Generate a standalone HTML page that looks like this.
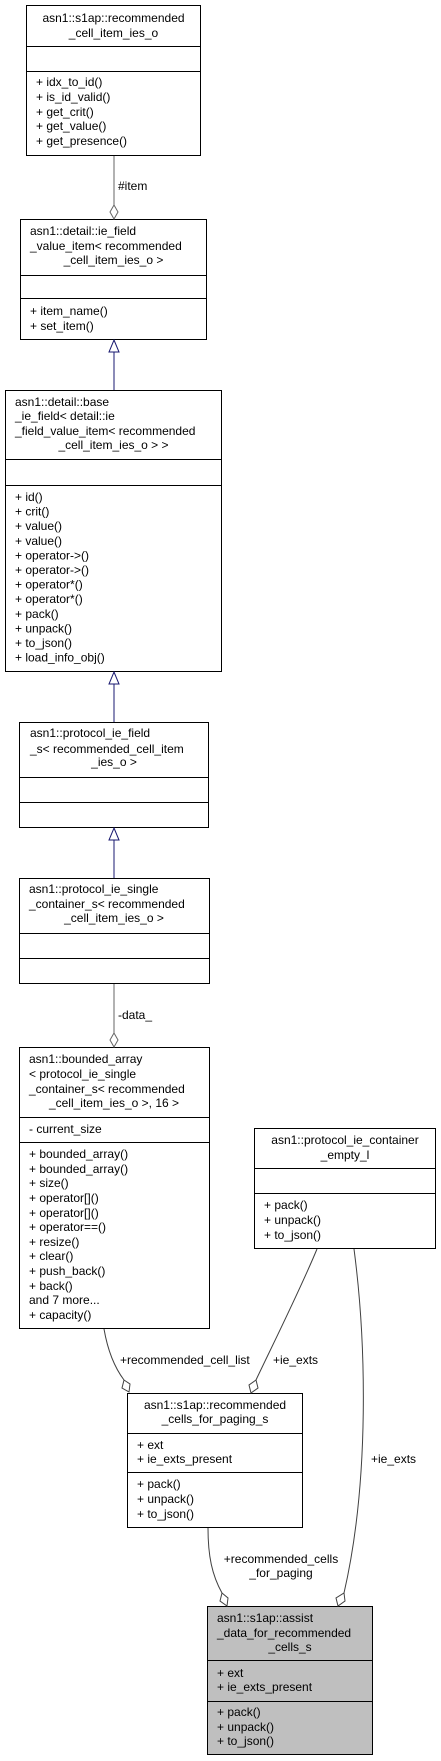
<!DOCTYPE html>
<html><head><meta charset="utf-8"><style>
html,body{margin:0;padding:0;background:#fff;}
svg{display:block;}
text{font-family:"Liberation Sans",sans-serif;font-size:12px;fill:#000;}
</style></head><body>
<svg width="441" height="1761" viewBox="0 0 441 1761" xmlns="http://www.w3.org/2000/svg">
<g fill="#fff" stroke="#000" stroke-width="1">
<rect x="26.5" y="5.5" width="174" height="150"/>
<line x1="26.5" y1="46.5" x2="200.5" y2="46.5"/><line x1="26.5" y1="71.5" x2="200.5" y2="71.5"/>
<rect x="20.5" y="219.5" width="186" height="120"/>
<line x1="20.5" y1="275.5" x2="206.5" y2="275.5"/><line x1="20.5" y1="298.5" x2="206.5" y2="298.5"/>
<rect x="5.5" y="390.5" width="216" height="281"/>
<line x1="5.5" y1="459.5" x2="221.5" y2="459.5"/><line x1="5.5" y1="485.5" x2="221.5" y2="485.5"/>
<rect x="19.5" y="722.5" width="189" height="105"/>
<line x1="19.5" y1="777.5" x2="208.5" y2="777.5"/><line x1="19.5" y1="802.5" x2="208.5" y2="802.5"/>
<rect x="19.5" y="878.5" width="190" height="105"/>
<line x1="19.5" y1="933.5" x2="209.5" y2="933.5"/><line x1="19.5" y1="958.5" x2="209.5" y2="958.5"/>
<rect x="19.5" y="1047.5" width="190" height="281"/>
<line x1="19.5" y1="1117.5" x2="209.5" y2="1117.5"/><line x1="19.5" y1="1142.5" x2="209.5" y2="1142.5"/>
<rect x="254.5" y="1128.5" width="181" height="120"/>
<line x1="254.5" y1="1168.5" x2="435.5" y2="1168.5"/><line x1="254.5" y1="1193.5" x2="435.5" y2="1193.5"/>
<rect x="127.5" y="1393.5" width="175" height="134"/>
<line x1="127.5" y1="1433.5" x2="302.5" y2="1433.5"/><line x1="127.5" y1="1472.5" x2="302.5" y2="1472.5"/>
<rect x="207.5" y="1606.5" width="165" height="148" fill="#bfbfbf"/>
<line x1="207.5" y1="1660.5" x2="372.5" y2="1660.5"/><line x1="207.5" y1="1701.5" x2="372.5" y2="1701.5"/>
</g>
<g fill="none" stroke="#666" stroke-width="1">
<line x1="114" y1="156" x2="114" y2="205"/>
<path d="M114,205 L118,212 L114,219 L110,212 Z" fill="#fff"/>
<line x1="114" y1="984" x2="114" y2="1033"/>
<path d="M114,1033 L118,1040 L114,1047 L110,1040 Z" fill="#fff"/>
</g>
<g fill="none" stroke="#404040" stroke-width="1">
<path d="M104,1329 C108,1352 115,1368 124,1380"/>
<path d="M124,1380 L130,1384 L129,1392 L122,1388 Z" fill="#fff"/>
<path d="M317,1249 C300,1290 275,1340 256,1380"/>
<path d="M256,1380 L258,1388 L251,1393 L249,1385 Z" fill="#fff"/>
<path d="M208,1528 C208,1556 212,1575 222,1593"/>
<path d="M222,1593 L228,1598 L227,1606 L220,1601 Z" fill="#fff"/>
<path d="M354,1249 C366,1340 370,1480 344,1593"/>
<path d="M344,1593 L345,1601 L338,1606 L336,1598 Z" fill="#fff"/>
</g>
<g fill="none" stroke="#191970" stroke-width="1">
<line x1="114" y1="351" x2="114" y2="390"/>
<path d="M114,340 L119,352 L109,352 Z" fill="#fff"/>
<line x1="114" y1="683" x2="114" y2="722"/>
<path d="M114,672 L119,684 L109,684 Z" fill="#fff"/>
<line x1="114" y1="839" x2="114" y2="878"/>
<path d="M114,828 L119,840 L109,840 Z" fill="#fff"/>
</g>
<text x="118" y="190">#item</text>
<text x="118" y="1019">-data_</text>
<text x="120" y="1364">+recommended_cell_list</text>
<text x="273" y="1364">+ie_exts</text>
<text x="371" y="1463">+ie_exts</text>
<text x="281" y="1563" text-anchor="middle">+recommended_cells</text>
<text x="281" y="1577" text-anchor="middle">_for_paging</text>
<text x="113.5" y="22" text-anchor="middle">asn1::s1ap::recommended</text>
<text x="113.5" y="37" text-anchor="middle">_cell_item_ies_o</text>
<text x="36" y="86">+ idx_to_id()</text>
<text x="36" y="101">+ is_id_valid()</text>
<text x="36" y="116">+ get_crit()</text>
<text x="36" y="130">+ get_value()</text>
<text x="36" y="145">+ get_presence()</text>
<text x="30" y="235">asn1::detail::ie_field</text>
<text x="30" y="250">_value_item&lt; recommended</text>
<text x="113.5" y="264" text-anchor="middle">_cell_item_ies_o &gt;</text>
<text x="30" y="315">+ item_name()</text>
<text x="30" y="330">+ set_item()</text>
<text x="15" y="406">asn1::detail::base</text>
<text x="15" y="420">_ie_field&lt; detail::ie</text>
<text x="15" y="435">_field_value_item&lt; recommended</text>
<text x="113.5" y="449" text-anchor="middle">_cell_item_ies_o &gt; &gt;</text>
<text x="15" y="501">+ id()</text>
<text x="15" y="515.6">+ crit()</text>
<text x="15" y="530.2">+ value()</text>
<text x="15" y="544.8">+ value()</text>
<text x="15" y="559.4">+ operator-&gt;()</text>
<text x="15" y="574">+ operator-&gt;()</text>
<text x="15" y="588.6">+ operator*()</text>
<text x="15" y="603.2">+ operator*()</text>
<text x="15" y="617.8">+ pack()</text>
<text x="15" y="632.4">+ unpack()</text>
<text x="15" y="647">+ to_json()</text>
<text x="15" y="661.6">+ load_info_obj()</text>
<text x="30" y="737">asn1::protocol_ie_field</text>
<text x="30" y="753">_s&lt; recommended_cell_item</text>
<text x="114" y="766" text-anchor="middle">_ies_o &gt;</text>
<text x="29" y="893">asn1::protocol_ie_single</text>
<text x="29" y="908">_container_s&lt; recommended</text>
<text x="114" y="922" text-anchor="middle">_cell_item_ies_o &gt;</text>
<text x="29" y="1063">asn1::bounded_array</text>
<text x="29" y="1078">&lt; protocol_ie_single</text>
<text x="29" y="1093">_container_s&lt; recommended</text>
<text x="114" y="1107" text-anchor="middle">_cell_item_ies_o &gt;, 16 &gt;</text>
<text x="29" y="1133">- current_size</text>
<text x="29" y="1158">+ bounded_array()</text>
<text x="29" y="1173">+ bounded_array()</text>
<text x="29" y="1187">+ size()</text>
<text x="29" y="1202">+ operator[]()</text>
<text x="29" y="1217">+ operator[]()</text>
<text x="29" y="1231">+ operator==()</text>
<text x="29" y="1246">+ resize()</text>
<text x="29" y="1260">+ clear()</text>
<text x="29" y="1275">+ push_back()</text>
<text x="29" y="1290">+ back()</text>
<text x="29" y="1304">and 7 more...</text>
<text x="29" y="1319">+ capacity()</text>
<text x="345" y="1144" text-anchor="middle">asn1::protocol_ie_container</text>
<text x="345" y="1159" text-anchor="middle">_empty_l</text>
<text x="264" y="1209">+ pack()</text>
<text x="264" y="1224">+ unpack()</text>
<text x="264" y="1239">+ to_json()</text>
<text x="215" y="1409" text-anchor="middle">asn1::s1ap::recommended</text>
<text x="215" y="1423" text-anchor="middle">_cells_for_paging_s</text>
<text x="137" y="1449">+ ext</text>
<text x="137" y="1463">+ ie_exts_present</text>
<text x="137" y="1488">+ pack()</text>
<text x="137" y="1503">+ unpack()</text>
<text x="137" y="1518">+ to_json()</text>
<text x="217" y="1622">asn1::s1ap::assist</text>
<text x="217" y="1637">_data_for_recommended</text>
<text x="290" y="1651" text-anchor="middle">_cells_s</text>
<text x="217" y="1677">+ ext</text>
<text x="217" y="1691">+ ie_exts_present</text>
<text x="217" y="1716">+ pack()</text>
<text x="217" y="1731">+ unpack()</text>
<text x="217" y="1745">+ to_json()</text>
</svg>
</body></html>
